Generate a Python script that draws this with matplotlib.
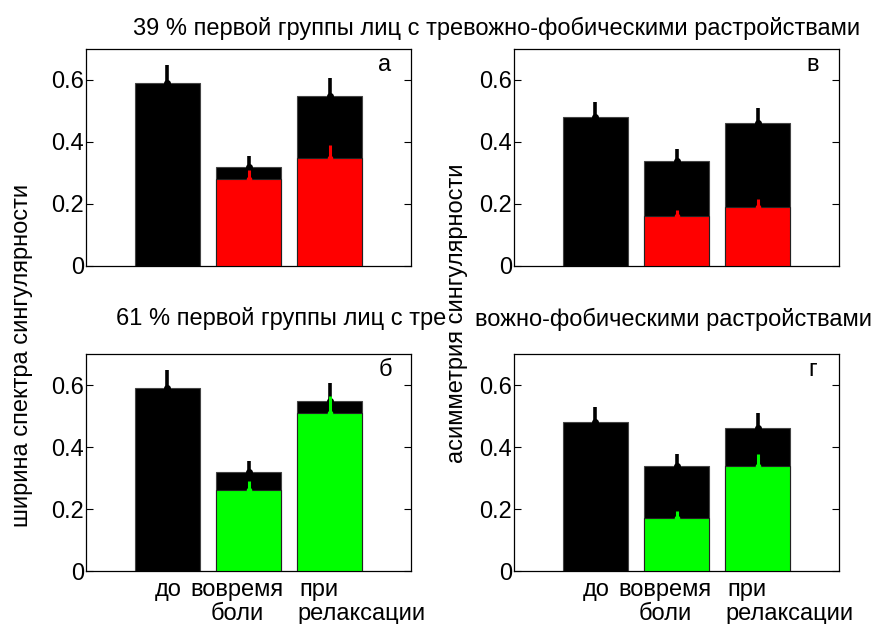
import numpy as np
import matplotlib
matplotlib.use('Agg')
from matplotlib import pyplot as plt

plt.rcParams['font.family'] = ['Liberation Sans', 'DejaVu Sans']
plt.rcParams['font.size'] = 17

# conditions: before, during pain, relaxation
x = np.array([1, 2, 3])
top_words = ['до', 'вовремя', 'при']
bottom_words = ['', 'боли', 'релаксации']

# width of the singularity spectrum (whole group, black)
width_all = [0.59, 0.32, 0.55]
width_all_err = [0.06, 0.035, 0.057]
# asymmetry of the singularity spectrum (whole group, black)
asym_all = [0.48, 0.34, 0.46]
asym_all_err = [0.05, 0.037, 0.05]

# 39 % subgroup (red)
width_39 = [np.nan, 0.28, 0.35]
width_39_err = [0, 0.03, 0.04]
asym_39 = [np.nan, 0.16, 0.19]
asym_39_err = [0, 0.02, 0.025]

# 61 % subgroup (green)
width_61 = [np.nan, 0.26, 0.51]
width_61_err = [0, 0.03, 0.055]
asym_61 = [np.nan, 0.17, 0.34]
asym_61_err = [0, 0.025, 0.038]

fig = plt.figure(figsize=(8.81, 6.24), dpi=100)

W, H = 325 / 881, 217 / 624
boxes = {
    'а': [86 / 881, 358 / 624, W, H],
    'в': [514 / 881, 358 / 624, W, H],
    'б': [86 / 881, 53 / 624, W, H],
    'г': [514 / 881, 53 / 624, W, H],
}
panels = [
    ('а', width_all, width_all_err, width_39, width_39_err, '#ff0000', False),
    ('в', asym_all, asym_all_err, asym_39, asym_39_err, '#ff0000', False),
    ('б', width_all, width_all_err, width_61, width_61_err, '#00ff00', True),
    ('г', asym_all, asym_all_err, asym_61, asym_61_err, '#00ff00', True),
]

for letter, base, base_err, sub, sub_err, col, bottom in panels:
    ax = fig.add_axes(boxes[letter])
    ax.bar(x, base, width=0.8, color='k', edgecolor='#444444', linewidth=0.8, zorder=2)
    ax.errorbar(x, base, yerr=[np.zeros(3), base_err], fmt='o', color='k',
                ms=4, elinewidth=2.6, capsize=0, zorder=3)
    ax.bar(x, sub, width=0.8, color=col, edgecolor='#222222', linewidth=0.8, zorder=4)
    ax.errorbar(x, sub, yerr=[np.zeros(3), sub_err], fmt='o', color=col,
                ms=3, elinewidth=2.2, capsize=0, zorder=5)
    ax.set_xlim(0, 4)
    ax.set_ylim(0, 0.7)
    ax.set_yticks([0, 0.2, 0.4, 0.6])
    ax.set_yticklabels(['0', '0.2', '0.4', '0.6'])
    ax.set_xticks([])
    ax.tick_params(axis='y', direction='in', right=True, length=5, width=0.8, pad=1.5)
    for s in ax.spines.values():
        s.set_linewidth(0.9)
    ax.text(0.92, 0.925, letter, transform=ax.transAxes, ha='center', va='center')
    if bottom:
        for xi, w in zip([0.85, 1.28, 2.63], top_words):
            ax.text(xi, -0.027, w, ha='left', va='top', clip_on=False)
        for xi, w in zip([0.85, 1.53, 2.60], bottom_words):
            ax.text(xi, -0.104, w, ha='left', va='top', clip_on=False)

fig.text(497 / 881, 1 - 28 / 624, '39 % первой группы лиц с тревожно-фобическими растройствами',
         ha='center', va='center')
fig.text(446 / 881, 1 - 319 / 624, '61 % первой группы лиц с тре', ha='right', va='center')
fig.text(475 / 881, 1 - 319 / 624, 'вожно-фобическими растройствами', ha='left', va='center')
fig.text(22 / 881, 1 - 355 / 624, 'ширина спектра сингулярности', rotation=90,
         ha='center', va='center')
fig.text(457 / 881, 1 - 463 / 624, 'асимметрия сингулярности', rotation=90,
         ha='center', va='bottom')

fig.savefig('out.png', dpi=100)
